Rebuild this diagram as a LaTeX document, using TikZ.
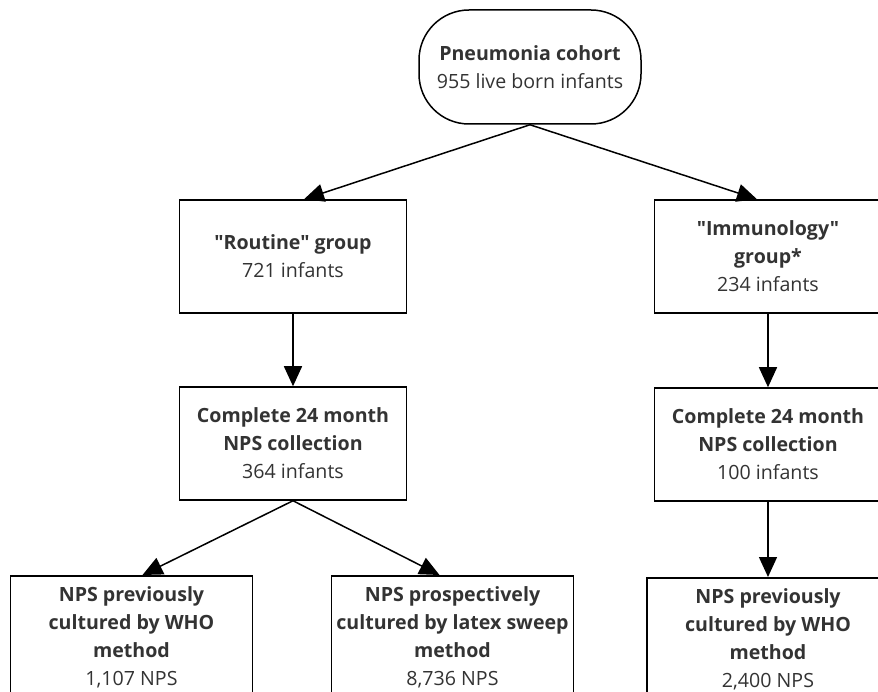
\documentclass[tikz,border=0pt]{standalone}
\usepackage{fontspec}
\setmainfont{Open Sans}[Ligatures=TeXOff]
\usetikzlibrary{arrows.meta}
\definecolor{ctext}{HTML}{333333}

\begin{document}
\begin{tikzpicture}[x=1pt, y=-1pt,
  box/.style={draw=black, line width=1.5pt, fill=white, text=ctext, align=center,
    font=\fontsize{19.6}{28}\selectfont, inner sep=0pt,
    minimum width=227pt, minimum height=113pt},
  lowbox/.style={box, anchor=north, minimum width=242pt, minimum height=0pt,
    inner ysep=11pt},
  flow/.style={-{Triangle[length=20pt, width=18pt]}, line width=1.5pt}]
  % page frame, boxes run off the right and bottom edges
  \useasboundingbox (0,0) rectangle (878,692);
  \clip (0,0) rectangle (878,692);

  % Top of the cohort
  \node[box, rounded corners=50pt, minimum width=222pt, minimum height=114pt]
    (cohort) at (530,67) {\textbf{Pneumonia cohort}\\955 live born infants};

  % Two groups
  \node[box] (routine) at (293,256.5) {\textbf{"Routine" group}\\721 infants};
  \node[box] (immuno) at (768,256.5) {\textbf{"Immunology"}\\\textbf{group*}\\234 infants};

  % Complete collection
  \node[box] (compR) at (293,443.5) {\textbf{Complete 24 month}\\\textbf{NPS collection}\\364 infants};
  \node[box] (compI) at (768,444.5) {\textbf{Complete 24 month}\\\textbf{NPS collection}\\100 infants};

  % Cultured samples
  \node[lowbox] (whoR) at (131.5,575) {\textbf{NPS previously}\\\textbf{cultured by WHO}\\\textbf{method}\\1,107 NPS};
  \node[lowbox] (latex) at (452.5,575) {\textbf{NPS prospectively}\\\textbf{cultured by latex sweep}\\\textbf{method}\\8,736 NPS};
  \node[lowbox] (whoI) at (768,577) {\textbf{NPS previously}\\\textbf{cultured by WHO}\\\textbf{method}\\2,400 NPS};

  % Arrows
  \draw[flow] (cohort.south) -- ([xshift=11pt]routine.north);
  \draw[flow] (cohort.south) -- ([xshift=-11pt]immuno.north);
  \draw[flow] (routine) -- (compR);
  \draw[flow] (immuno) -- (compI);
  \draw[flow] (compR.south) -- ([xshift=11pt]whoR.north);
  \draw[flow] (compR.south) -- ([xshift=-13pt]latex.north);
  \draw[flow] (compI) -- (whoI);
\end{tikzpicture}
\end{document}
